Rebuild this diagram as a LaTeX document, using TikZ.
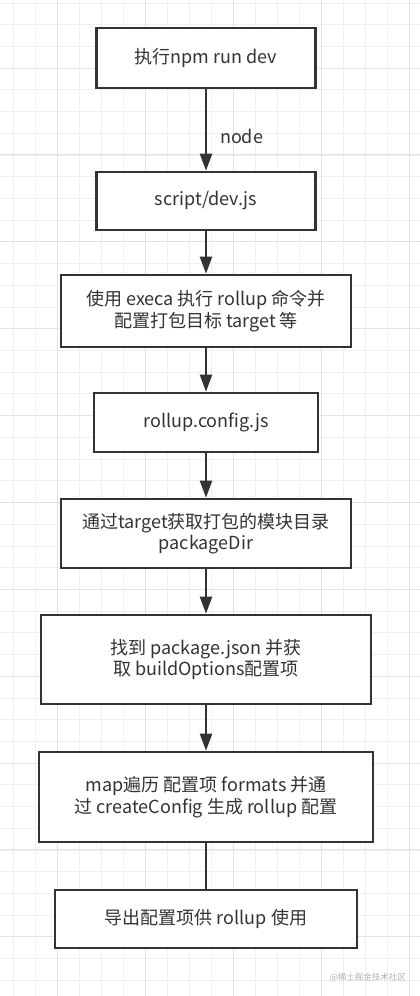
\documentclass[tikz,border=0pt]{standalone}
\usepackage{fontspec}
\setmainfont{Noto Sans CJK SC}
\usetikzlibrary{arrows.meta}
\begin{document}
\begin{tikzpicture}[x=1pt,y=-1pt,
  stepbox/.style={draw=boxline,line width=2.6pt,fill=white,inner sep=0pt,align=center,text=textgray,font=\fontsize{18}{21.7}\selectfont},
  flow/.style={draw=boxline,line width=2.2pt,-{Triangle[length=17pt,width=12pt]}}]
\definecolor{boxline}{HTML}{333333}
\definecolor{textgray}{HTML}{333333}
\definecolor{gridminor}{HTML}{F0F0F0}
\definecolor{gridmajor}{HTML}{E3E3E3}
\useasboundingbox (0,0) rectangle (420,996);
\fill[white] (0,0) rectangle (420,996);
  \foreach \i in {0,...,18}
  {  \draw[gridminor,line width=1pt] (13.3+22*\i,0) -- (13.3+22*\i,996);}
  \foreach \i in {0,...,45}
  {  \draw[gridminor,line width=1pt] (0,3+21.72*\i) -- (420,3+21.72*\i);}
  \foreach \i in {0,...,4}
  {  \draw[gridmajor,line width=1pt] (57.3+88*\i,0) -- (57.3+88*\i,996);}
  \foreach \i in {0,...,10}
  {  \draw[gridmajor,line width=1pt] (0,68+86.88*\i) -- (420,68+86.88*\i);}
  \foreach \nm/\y/\w/\h/\txt in {run/58/219/60/{执行npm run dev},
      devjs/201/219/58/{script/dev.js},
      execa/311/290/72/{使用 execa 执行 rollup 命令并\\配置打包目标 target 等},
      config/422.5/224/59/{rollup.config.js},
      pkgdir/533.5/290/69/{通过target获取打包的模块目录\\packageDir},
      buildopt/659.5/330/89/{找到 package.json 并获\\取 buildOptions配置项},
      formats/797/334/90/{map遍历 配置项 formats 并通\\过 createConfig 生成 rollup 配置},
      export/919/302/58/{导出配置项供 rollup 使用}}
  {  \node [stepbox,minimum width=\w,minimum height=\h] (\nm) at (206,\y) {\txt};}
\draw[flow] (run) -- node[pos=0.58,anchor=west,xshift=13pt,inner sep=0pt,text=textgray,font=\fontsize{18}{21.7}\selectfont] (lblnode) {node} (devjs);
  \foreach \a/\b in {devjs/execa,execa/config,config/pkgdir,pkgdir/buildopt,buildopt/formats}
  {  \draw[flow] (\a) -- (\b);}
\draw[boxline,line width=2.2pt] (formats) -- (export);
\node [anchor=east,inner sep=0pt,text=black!30,font=\fontsize{8.5}{10}\selectfont] (mark) at (406,978) {@稀土掘金技术社区};
\end{tikzpicture}
\end{document}
